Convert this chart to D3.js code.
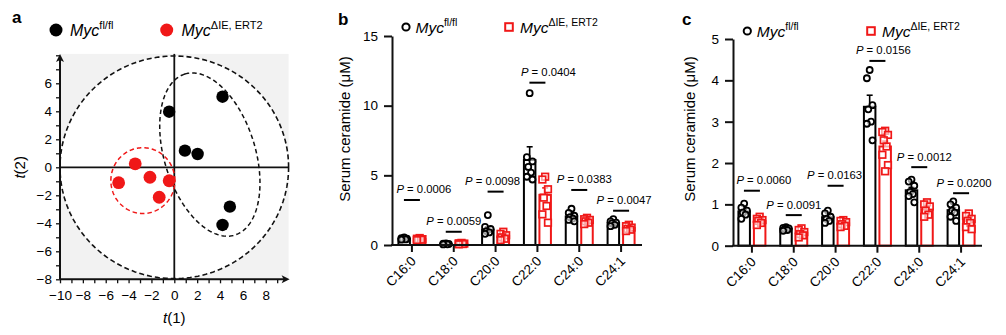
<!DOCTYPE html>
<html><head><meta charset="utf-8">
<script src="https://cdn.jsdelivr.net/npm/d3@7"></script>
<style>body{margin:0;background:#fff}svg{display:block}text{font-family:"Liberation Sans",Arial,Helvetica,sans-serif;fill:#000}</style>
</head><body><svg id="chart" width="1006" height="335"></svg>
<script>
// ---------------- DATA ----------------
// Panel a: PCA scores
const pcaCtrlX = [-0.45, 4.22, 0.93, 2.04, 4.86, 4.22];
const pcaCtrlY = [3.97, 5.04, 1.19, 0.95, -2.81, -4.12];
const pcaKoX = [-3.42, -4.87, -2.13, -0.45, -1.32];
const pcaKoY = [0.25, -1.10, -0.71, -0.96, -2.14];
const pcaXTicks = [-10, -8, -6, -4, -2, 0, 2, 4, 6, 8];
const pcaYTicks = [-8, -6, -4, -2, 0, 2, 4, 6];
// confidence ellipses (centre, semi-axis vectors, in t(1)/t(2) units)
const ellHotelling = {c: [0, 0], u: [10, 0], v: [0, 7.95]};
const ellCtrl = {c: [3.11, 0.91], u: [-2.19, 5.75], v: [3.8, 0.97]};
const ellKo = {c: [-2.75, -0.95], u: [2.8, 0], v: [0, 2.35]};

// Panels b & c
const categories = ["C16:0", "C18:0", "C20:0", "C22:0", "C24:0", "C24:1"];
// b: serum ceramide (µM), panel b
const bCtrlMean = [0.45, 0.06, 1.1, 6.1, 2.05, 1.58];
const bCtrlSem = [0.03, 0.01, 0.2, 0.95, 0.12, 0.07];
const bKoMean = [0.42, 0.08, 0.65, 3.6, 1.73, 1.22];
const bKoSem = [0.03, 0.01, 0.1, 0.5, 0.06, 0.06];
const bCtrlPts = [
  [0.55, 0.5, 0.45, 0.42, 0.4, 0.38],
  [0.12, 0.1, 0.08, 0.06, 0.05, 0.04],
  [2.15, 1.3, 1.15, 1.0, 0.9, 0.8],
  [10.9, 6.3, 6.0, 5.6, 5.2, 4.9, 4.7],
  [2.6, 2.3, 2.1, 2.0, 1.9, 1.8, 1.7],
  [1.85, 1.7, 1.6, 1.55, 1.45, 1.35]
];
const bKoPts = [
  [0.5, 0.45, 0.42, 0.4, 0.38, 0.35],
  [0.15, 0.12, 0.1, 0.08, 0.07, 0.05],
  [0.95, 0.8, 0.7, 0.55, 0.45, 0.35],
  [4.9, 4.7, 4.0, 3.4, 2.8, 2.2, 1.6],
  [1.95, 1.85, 1.8, 1.7, 1.6, 1.5],
  [1.45, 1.35, 1.25, 1.15, 1.1, 1.0]
];
const bPHeight = [3.23, 0.95, 3.83, 11.65, 3.95, 2.46];
const bPText = ["0.0006", "0.0059", "0.0098", "0.0404", "0.0383", "0.0047"];
const bTicks = [0, 5, 10, 15];

// c: serum ceramide (µM), panel c
const cCtrlMean = [0.83, 0.41, 0.69, 3.36, 1.34, 0.86];
const cCtrlSem = [0.05, 0.01, 0.04, 0.28, 0.07, 0.06];
const cKoMean = [0.6, 0.31, 0.54, 2.4, 0.88, 0.6];
const cKoSem = [0.03, 0.03, 0.03, 0.13, 0.05, 0.06];
const cCtrlPts = [
  [1.02, 0.92, 0.85, 0.8, 0.75, 0.65],
  [0.45, 0.43, 0.42, 0.4, 0.38, 0.36],
  [0.85, 0.78, 0.7, 0.65, 0.6, 0.55],
  [4.25, 4.05, 3.4, 3.3, 3.0, 2.95, 2.55],
  [1.6, 1.55, 1.45, 1.3, 1.25, 1.2, 1.05],
  [1.07, 1.0, 0.92, 0.85, 0.8, 0.7, 0.6]
];
const cKoPts = [
  [0.7, 0.65, 0.62, 0.6, 0.55, 0.5],
  [0.42, 0.38, 0.33, 0.28, 0.25, 0.2],
  [0.62, 0.6, 0.57, 0.52, 0.48, 0.45],
  [2.78, 2.75, 2.68, 2.55, 2.4, 2.2, 1.95, 1.8],
  [1.05, 1.0, 0.95, 0.85, 0.75, 0.7],
  [0.78, 0.72, 0.65, 0.6, 0.55, 0.45, 0.4]
];
const cPHeight = [1.33, 0.74, 1.45, 4.47, 1.9, 1.27];
const cPText = ["0.0060", "0.0091", "0.0163", "0.0156", "0.0012", "0.0200"];
const cTicks = [0, 1, 2, 3, 4, 5];

// ---------------- LAYOUT / STYLE ----------------
const RED = "#f01818";
const AX = "#111";
const svg = d3.select("#chart");

function legendLabel(g, x, y, sup, size, supSize) {
  const t = g.append("text").attr("x", x).attr("y", y).style("font-size", size + "px");
  t.append("tspan").style("font-style", "italic").text("Myc");
  t.append("tspan").attr("dy", -size * 0.42).style("font-size", supSize + "px").text(sup);
}

// ---------------- PANEL A ----------------
(function () {
  const x = d3.scaleLinear().domain([-10, 10]).range([60, 288.6]);
  const y = d3.scaleLinear().domain([-8, 8.1]).range([279.3, 53.9]);
  const g = svg.append("g");
  g.append("rect").attr("x", x(-10)).attr("y", y(8.1))
    .attr("width", x(10) - x(-10)).attr("height", y(-8) - y(8.1)).attr("fill", "#f2f2f2");
  const ellPath = e => d3.line()(d3.range(0, 361, 2).map(a => {
    const t = a * Math.PI / 180;
    return [x(e.c[0] + e.u[0] * Math.cos(t) + e.v[0] * Math.sin(t)),
            y(e.c[1] + e.u[1] * Math.cos(t) + e.v[1] * Math.sin(t))];
  })) + "Z";
  g.append("path").attr("d", ellPath(ellHotelling)).attr("fill", "#fff");
  // zero lines
  g.append("line").attr("x1", x(0)).attr("x2", x(0)).attr("y1", y(8.1)).attr("y2", y(-8))
    .attr("stroke", AX).attr("stroke-width", 1.8);
  g.append("line").attr("x1", x(-10)).attr("x2", x(10)).attr("y1", y(0)).attr("y2", y(0))
    .attr("stroke", AX).attr("stroke-width", 1.8);
  g.append("path").attr("d", ellPath(ellHotelling)).attr("fill", "none")
    .attr("stroke", "#111").attr("stroke-width", 1.6).attr("stroke-dasharray", "5,3");
  g.append("path").attr("d", ellPath(ellCtrl)).attr("fill", "none")
    .attr("stroke", "#111").attr("stroke-width", 1.5).attr("stroke-dasharray", "4.5,3");
  g.append("path").attr("d", ellPath(ellKo)).attr("fill", "none")
    .attr("stroke", RED).attr("stroke-width", 1.5).attr("stroke-dasharray", "4.5,3");
  // points
  g.selectAll(".pc").data(pcaCtrlX).enter().append("circle")
    .attr("cx", d => x(d)).attr("cy", (d, i) => y(pcaCtrlY[i])).attr("r", 6.2).attr("fill", "#000");
  g.selectAll(".pk").data(pcaKoX).enter().append("circle")
    .attr("cx", d => x(d)).attr("cy", (d, i) => y(pcaKoY[i])).attr("r", 6.4).attr("fill", RED);
  // axes
  const fmt = d3.format("d");
  const ya = g.append("g").attr("transform", `translate(${x(-10)},0)`)
    .call(d3.axisLeft(y).tickValues(d3.range(-8, 9, 1)).tickSize(4).tickPadding(4)
      .tickFormat(d => pcaYTicks.includes(d) ? fmt(d) : ""));
  const xa = g.append("g").attr("transform", `translate(0,${y(-8)})`)
    .call(d3.axisBottom(x).tickValues(d3.range(-10, 10, 1)).tickSize(4).tickPadding(7)
      .tickFormat(d => pcaXTicks.includes(d) ? fmt(d) : ""));
  [ya, xa].forEach(a => {
    a.select(".domain").remove();
    a.selectAll("line").attr("stroke", AX).attr("stroke-width", 1.3);
    a.selectAll("text").style("font-size", "13.5px").attr("fill", "#000");
  });
  g.append("line").attr("x1", x(-10)).attr("x2", x(10) - 2).attr("y1", y(-8)).attr("y2", y(-8))
    .attr("stroke", AX).attr("stroke-width", 2);
  g.append("line").attr("x1", x(-10)).attr("x2", x(-10)).attr("y1", y(-8)).attr("y2", y(8.1) + 2)
    .attr("stroke", AX).attr("stroke-width", 2);
  const ax = x(10) + 1, ay = y(-8), tx = x(-10), ty = y(8.1);
  g.append("path").attr("d", `M${ax},${ay} L${ax - 8},${ay - 4} L${ax - 6},${ay} L${ax - 8},${ay + 4}Z`).attr("fill", AX);
  g.append("path").attr("d", `M${tx},${ty} L${tx - 4},${ty + 8} L${tx},${ty + 6} L${tx + 4},${ty + 8}Z`).attr("fill", AX);
  // axis titles
  const t1 = g.append("text").attr("x", x(0)).attr("y", 323).attr("text-anchor", "middle").style("font-size", "15px");
  t1.append("tspan").style("font-style", "italic").text("t");
  t1.append("tspan").text("(1)");
  const t2 = g.append("text").attr("transform", `translate(25,${y(0)}) rotate(-90)`)
    .attr("text-anchor", "middle").style("font-size", "15px");
  t2.append("tspan").style("font-style", "italic").text("t");
  t2.append("tspan").text("(2)");
  // legend
  g.append("circle").attr("cx", 56).attr("cy", 30).attr("r", 6.5).attr("fill", "#000");
  legendLabel(g, 70, 36, "fl/fl", 16, 11);
  g.append("circle").attr("cx", 166.7).attr("cy", 30).attr("r", 6.5).attr("fill", RED);
  legendLabel(g, 181.5, 36, "ΔIE, ERT2", 16, 11);
  g.append("text").attr("x", 12).attr("y", 23).style("font-size", "17px").style("font-weight", "bold").text("a");
})();

// ---------------- PANELS B & C ----------------
function barPanel(o) {
  const x = d3.scaleBand().domain(categories).range(o.xr);
  const y = d3.scaleLinear().domain([0, o.max]).range(o.yr);
  const g = svg.append("g");
  const cx = c => x(c) + x.bandwidth() / 2;
  const jit = [0, -2.8, 2.8, -1.4, 1.4, -2.8, 2.8, 0];
  const bw = 11.5;
  categories.forEach((c, i) => {
    const groups = [
      {m: o.ctrlMean[i], s: o.ctrlSem[i], p: o.ctrlPts[i], col: "#000", bx: cx(c) - 13.5, shape: "circle"},
      {m: o.koMean[i], s: o.koSem[i], p: o.koPts[i], col: RED, bx: cx(c) + 2, shape: "square"}
    ];
    groups.forEach(gr => {
      const mx = gr.bx + bw / 2;
      g.append("line").attr("x1", mx).attr("x2", mx).attr("y1", y(gr.m)).attr("y2", y(gr.m + gr.s))
        .attr("stroke", gr.col).attr("stroke-width", 1.6);
      g.append("line").attr("x1", mx - 3).attr("x2", mx + 3).attr("y1", y(gr.m + gr.s)).attr("y2", y(gr.m + gr.s))
        .attr("stroke", gr.col).attr("stroke-width", 1.6);
      g.append("rect").attr("x", gr.bx).attr("y", y(gr.m)).attr("width", bw).attr("height", y(0) - y(gr.m))
        .attr("fill", "none").attr("stroke", gr.col).attr("stroke-width", 2);
      gr.p.forEach((v, j) => {
        const px = mx + jit[j % jit.length];
        if (gr.shape === "circle") {
          g.append("circle").attr("cx", px).attr("cy", y(v)).attr("r", 3).attr("fill", "#fff")
            .attr("fill-opacity", 0.6).attr("stroke", "#000").attr("stroke-width", 1.8);
        } else {
          g.append("rect").attr("x", px - 3.3).attr("y", y(v) - 3.3).attr("width", 6.6).attr("height", 6.6)
            .attr("fill", "#fff").attr("fill-opacity", 0.6).attr("stroke", RED).attr("stroke-width", 1.7);
        }
      });
    });
    // P value annotation
    const hy = y(o.pH[i]);
    g.append("line").attr("x1", cx(c) - 8).attr("x2", cx(c) + 8).attr("y1", hy).attr("y2", hy)
      .attr("stroke", "#000").attr("stroke-width", 2);
    const t = g.append("text").attr("x", cx(c) + o.pDx[i]).attr("y", hy - 6.5)
      .attr("text-anchor", "middle").style("font-size", "11.3px");
    t.append("tspan").style("font-style", "italic").text("P");
    t.append("tspan").text(" = " + o.pT[i]);
  });
  // axes
  const ya = g.append("g").attr("transform", `translate(${o.axisX},0)`)
    .call(d3.axisLeft(y).tickValues(o.ticks).tickSize(8).tickPadding(6).tickSizeOuter(0)
      .tickFormat(d3.format("d")));
  ya.select(".domain").attr("stroke", AX).attr("stroke-width", 2);
  ya.selectAll(".tick line").attr("stroke", AX).attr("stroke-width", 2);
  ya.selectAll("text").style("font-size", "13.5px").attr("fill", "#000");
  g.append("line").attr("x1", o.axisX - 1).attr("x2", o.xr[1]).attr("y1", y(0)).attr("y2", y(0))
    .attr("stroke", AX).attr("stroke-width", 2);
  categories.forEach(c => {
    g.append("line").attr("x1", cx(c)).attr("x2", cx(c)).attr("y1", y(0)).attr("y2", y(0) + 7)
      .attr("stroke", AX).attr("stroke-width", 2);
    g.append("text").attr("transform", `translate(${cx(c) + 5},${y(0) + 17}) rotate(-45)`)
      .attr("text-anchor", "end").style("font-size", "13.5px").text(c);
  });
  g.append("text").attr("transform", `translate(${o.titleX},129) rotate(-90)`)
    .attr("text-anchor", "middle").style("font-size", "15px").text("Serum ceramide (μM)");
  // legend
  g.append("circle").attr("cx", o.legX[0]).attr("cy", o.legY).attr("r", 3.6).attr("fill", "none")
    .attr("stroke", "#000").attr("stroke-width", 2);
  legendLabel(g, o.legX[0] + 9.5, o.legY + 6, "fl/fl", 15.5, 10.5);
  g.append("rect").attr("x", o.legX[1] - 3.8).attr("y", o.legY - 3.8).attr("width", 7.6).attr("height", 7.6)
    .attr("fill", "none").attr("stroke", RED).attr("stroke-width", 2);
  legendLabel(g, o.legX[1] + 11, o.legY + 6, "ΔIE, ERT2", 15.5, 10.5);
  g.append("text").attr("x", o.letterX).attr("y", 25).style("font-size", "17px").style("font-weight", "bold").text(o.letter);
}

barPanel({
  xr: [391, 642], yr: [245, 36], max: 15, axisX: 392, ticks: bTicks,
  ctrlMean: bCtrlMean, ctrlSem: bCtrlSem, ctrlPts: bCtrlPts,
  koMean: bKoMean, koSem: bKoSem, koPts: bKoPts,
  pH: bPHeight, pT: bPText, pDx: [12, 0, -3, 11, 5, 3],
  titleX: 350, legX: [406, 509], legY: 27, letter: "b", letterX: 338
});
barPanel({
  xr: [731, 982], yr: [245.7, 39], max: 5, axisX: 733, ticks: cTicks,
  ctrlMean: cCtrlMean, ctrlSem: cCtrlSem, ctrlPts: cCtrlPts,
  koMean: cKoMean, koSem: cKoSem, koPts: cKoPts,
  pH: cPHeight, pT: cPText, pDx: [12, 0, -1, 6, 5, 3],
  titleX: 695, legX: [747.3, 871], legY: 31, letter: "c", letterX: 682
});
</script></body></html>
